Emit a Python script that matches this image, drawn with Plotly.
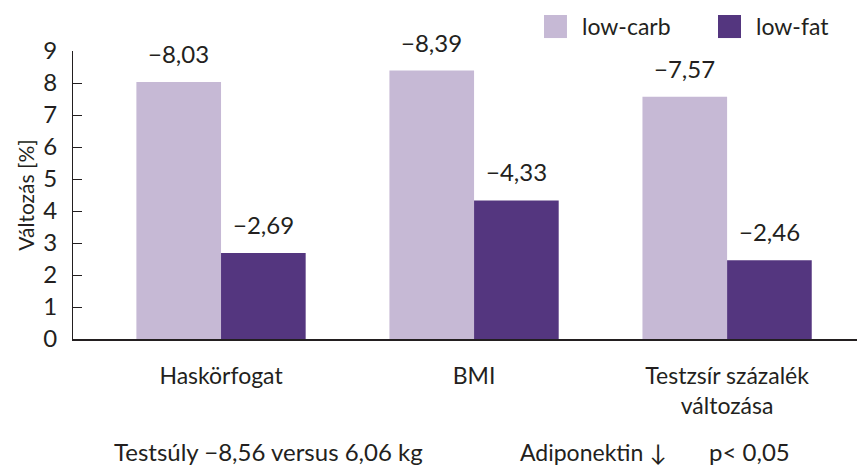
import plotly.graph_objects as go

categories = ["Haskörfogat", "BMI", "Testzsír százalék<br>változása"]
low_carb = [8.03, 8.39, 7.57]
low_fat = [2.69, 4.33, 2.46]
series_names = ["low-carb", "low-fat"]
colors = ["#C6B9D5", "#54367F"]
y_ticks = list(range(0, 10))
footnotes = ["Testsúly \u22128,56 versus 6,06 kg", "Adiponektin \u2193", "p< 0,05"]

FONT = "Lato, 'Noto Sans', sans-serif"
TXT = "#231F20"

def fmt(v):
    return "\u2212" + f"{v:.2f}".replace(".", ",")

x_idx = list(range(len(categories)))
fig = go.Figure()
for name, vals, col in zip(series_names, [low_carb, low_fat], colors):
    fig.add_trace(go.Bar(x=x_idx, y=vals, name=name, marker_color=col,
                         marker_line_width=0, showlegend=False))

bw = 0.3345
annotations = []
for k, vals in enumerate([low_carb, low_fat]):
    off = (-0.5 + k) * bw
    for i, v in enumerate(vals):
        annotations.append(dict(x=i + off, y=v, xref="x", yref="y", text=fmt(v),
                                showarrow=False, yanchor="bottom", yshift=12,
                                font=dict(size=24, color=TXT, family=FONT)))

# legend
leg_x = [0.5947, 0.8144]
for name, col, lx in zip(series_names, colors, leg_x):
    fig.add_shape(type="rect", xref="paper", yref="paper",
                  x0=lx, x1=lx + 0.029, y0=1.045, y1=1.125,
                  fillcolor=col, line_width=0)
    annotations.append(dict(x=lx + 0.045, y=1.087, xref="paper", yref="paper",
                            text=name, showarrow=False, xanchor="left", yanchor="middle",
                            font=dict(size=23, color=TXT, family=FONT)))

fn_x = [0.049, 0.562, 0.8]
fn_size = [24, 23, 24]
for t, fx, fs in zip(footnotes, fn_x, fn_size):
    annotations.append(dict(x=fx, y=-0.392, xref="paper", yref="paper", text=t,
                            showarrow=False, xanchor="left", yanchor="middle",
                            font=dict(size=fs, color=TXT, family=FONT)))

fig.update_layout(
    width=857, height=458,
    margin=dict(l=65, r=0, t=43, b=127),
    paper_bgcolor="white", plot_bgcolor="white",
    barmode="group", bargap=0.331, bargroupgap=0,
    annotations=annotations,
    font=dict(family=FONT, color=TXT),
    xaxis=dict(tickmode="array", tickvals=x_idx, ticktext=categories, automargin=False,
               range=[-0.585, 2.545], showline=True, linecolor="#231F20", linewidth=1.5,
               ticks="", showgrid=False, zeroline=False, ticklabelstandoff=16,
               tickfont=dict(size=23, color=TXT, family=FONT)),
    yaxis=dict(range=[0, 9], tickvals=y_ticks, showline=True, linecolor="#231F20",
               automargin=False, ticklabelstandoff=10,
               linewidth=1.2, ticks="inside", ticklen=9, tickcolor="#231F20",
               showgrid=False, zeroline=False,
               tickfont=dict(size=24, color=TXT, family=FONT),
               title=dict(text="Változás [%]", font=dict(size=21, color=TXT, family=FONT),
                          standoff=2)),
)
fig.write_html("out.html")
